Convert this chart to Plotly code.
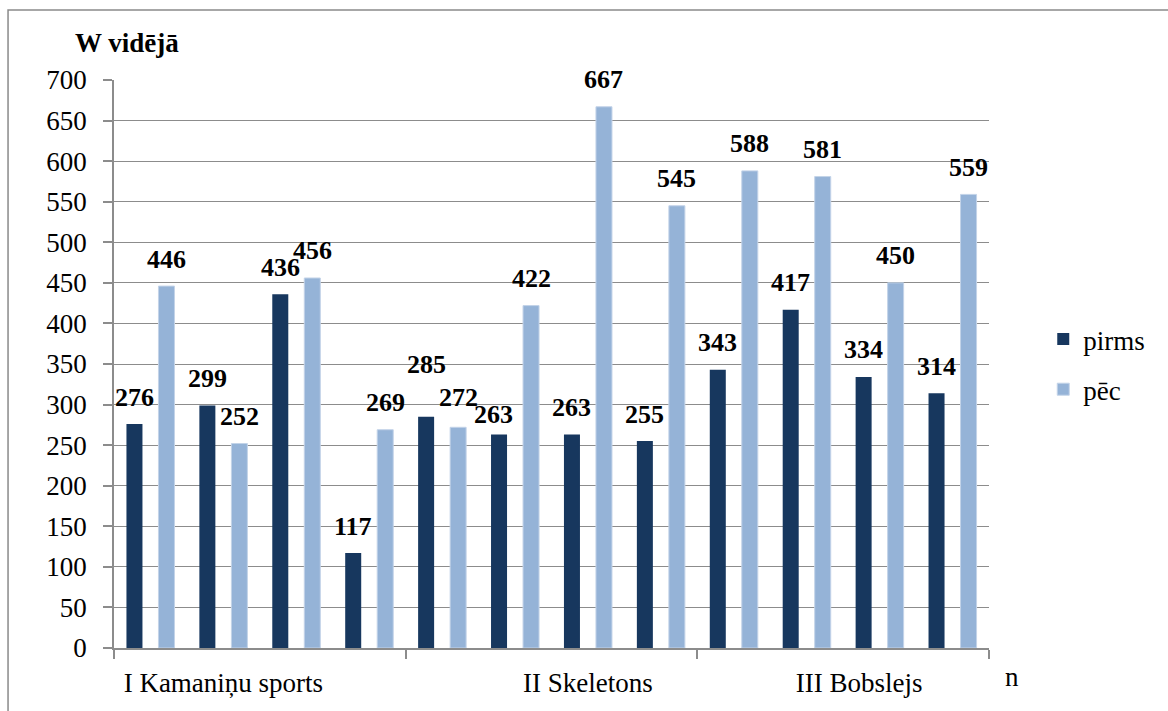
import plotly.graph_objects as go

# Average power (W) per athlete, before and after
series_names = ["pirms", "pēc"]
pirms = [276, 299, 436, 117, 285, 263, 263, 255, 343, 417, 334, 314]
pec = [446, 252, 456, 269, 272, 422, 667, 545, 588, 581, 450, 559]
athletes = list(range(len(pirms)))

group_labels = ["I Kamaniņu sports", "II Skeletons", "III Bobslejs"]
group_label_pos = [1, 6, 9.72]

y_ticks = list(range(0, 701, 50))

FONT = "Liberation Serif"
DARK = "#17375E"
LIGHT = "#95B3D7"
GRID = "#8c8c8c"

fig = go.Figure()
fig.add_trace(go.Bar(x=athletes, y=pirms, name=series_names[0], legendgroup="a",
                     marker=dict(color=DARK, line=dict(width=0))))
fig.add_trace(go.Bar(x=athletes, y=pec, name=series_names[1], legendgroup="b",
                     marker=dict(color=LIGHT, line=dict(color="#c3d3e8", width=1))))

# value labels above each bar; a few are nudged where they would collide
nudge = {(0, 4): (0, 25), (0, 5): (-6, -7), (1, 4): (0, 3)}
annotations = []
for s, (vals, dx) in enumerate([(pirms, -16), (pec, 16)]):
    for i, v in enumerate(vals):
        ox, oy = nudge.get((s, i), (0, 0))
        annotations.append(dict(
            x=athletes[i], y=v, xref="x", yref="y", text=str(v),
            showarrow=False, xshift=dx + ox, yshift=27 + oy, yanchor="middle",
            font=dict(family=FONT, size=26, color="black", weight="bold")))

annotations.append(dict(x=-0.047, y=1.0643, xref="paper", yref="paper",
                        text="W vidējā", showarrow=False, xanchor="left", yanchor="middle",
                        font=dict(family=FONT, size=27, color="black", weight="bold")))
annotations.append(dict(x=1.026, y=-0.051, xref="paper", yref="paper",
                        text="n", showarrow=False, xanchor="center", yanchor="middle",
                        font=dict(family=FONT, size=27, color="black")))

fig.update_layout(
    width=1168, height=711,
    margin=dict(l=114, r=179, t=80, b=63),
    paper_bgcolor="white", plot_bgcolor="white",
    barmode="group", bargap=0.122, bargroupgap=0.5,
    font=dict(family=FONT, size=27, color="black"),
    showlegend=True,
    legend=dict(x=1.062, y=0.499, xanchor="left", yanchor="middle",
                font=dict(family=FONT, size=27, color="black"),
                bgcolor="rgba(0,0,0,0)", tracegroupgap=12, traceorder="grouped"),
    annotations=annotations,
    shapes=[dict(type="rect", xref="paper", yref="paper",
                 x0=-0.1211, x1=1.215, y0=-0.13, y1=1.1232,
                 line=dict(color="#8a8a8a", width=1.5), layer="below")],
)

fig.update_xaxes(
    range=[-0.5, 11.5], tickmode="array", tickvals=group_label_pos, ticktext=group_labels,
    ticks="", showgrid=False, zeroline=False,
    showline=True, linecolor=GRID, linewidth=1.5,
    ticklabelstandoff=10,
    tickfont=dict(family=FONT, size=27, color="black"),
    minor=dict(tick0=-0.5, dtick=4, ticks="outside", ticklen=9, tickcolor=GRID,
               tickwidth=1.5, showgrid=False),
)
fig.update_yaxes(
    range=[0, 700], tickmode="array", tickvals=y_ticks,
    ticks="outside", ticklen=9, tickcolor=GRID, tickwidth=1.5,
    showgrid=True, gridcolor=GRID, gridwidth=1, zeroline=False,
    showline=True, linecolor=GRID, linewidth=1.5,
    ticklabelstandoff=11,
    tickfont=dict(family=FONT, size=27, color="black"),
)

fig.write_html("out.html")
